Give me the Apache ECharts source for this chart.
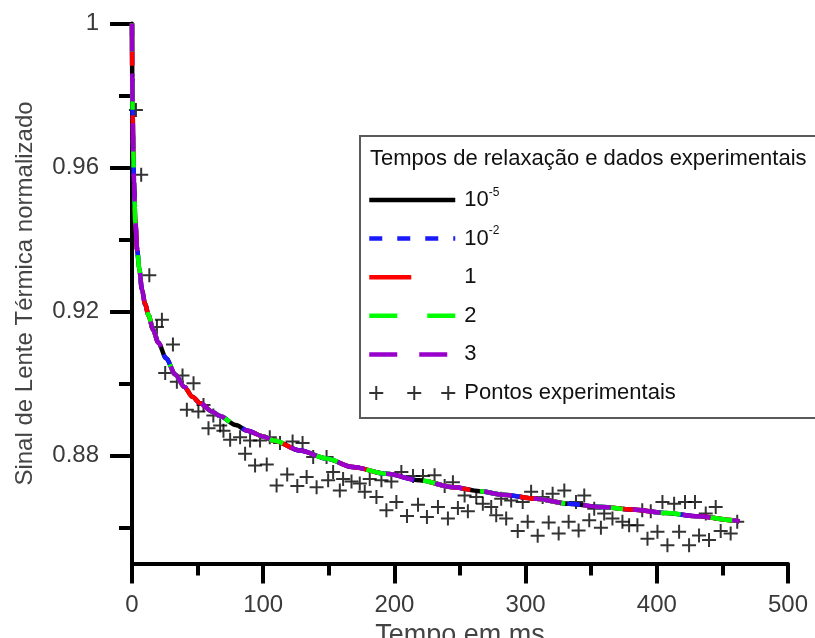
<!DOCTYPE html>
<html>
<head>
<meta charset="utf-8">
<script src="https://cdn.jsdelivr.net/npm/echarts@6/dist/echarts.min.js"></script>
<style>
  html, body { margin: 0; padding: 0; background: #fff; }
  #chart { width: 815px; height: 638px; }
</style>
</head>
<body>
<div id="chart"></div>
<script>
// tempo (ms) e sinal normalizado das curvas teoricas (todas se sobrepoem)
var curveTime = [0, 0.2, 0.5, 1, 1.5, 2.5, 4, 5.5, 7.6, 10, 12.6, 16, 20, 26, 33, 40, 46, 52, 61, 67, 79, 88, 100, 108, 128, 148, 168, 194, 219, 245, 265, 283, 308, 333, 358, 381, 407, 432, 458, 463]
var curveSignal = [1.0, 0.985, 0.975, 0.964, 0.956, 0.945, 0.937, 0.932, 0.926, 0.922, 0.919, 0.915, 0.9114, 0.907, 0.9025, 0.899, 0.8963, 0.8945, 0.8922, 0.891, 0.8885, 0.8869, 0.8853, 0.8842, 0.8814, 0.8792, 0.8768, 0.8749, 0.8731, 0.8712, 0.8701, 0.8691, 0.868, 0.8666, 0.8657, 0.865, 0.864, 0.8631, 0.862, 0.8617]

// pontos experimentais
var expTime = [3, 7, 13.2, 19, 22.8, 25.3, 31.2, 34.2, 38.5, 41.8, 46.9, 50.6, 54.5, 58.3, 62, 67.2, 69.7, 74.8, 82.4, 86.2, 90, 93.8, 97.6, 102.7, 105, 110.2, 112.8, 118.3, 122.4, 126, 130, 133.1, 138.1, 140.7, 148.3, 149.5, 153.3, 158.4, 160.9, 167.3, 173.6, 177.4, 181.2, 186.3, 190.1, 193.9, 197.7, 201.5, 205.3, 209.6, 214.2, 218, 221.8, 224.8, 230.6, 233.2, 238.3, 240.8, 244.6, 248.4, 253.5, 256, 262.4, 267.4, 273.8, 277.6, 281.4, 285.2, 289, 294, 297.8, 301.6, 304.2, 309.2, 313, 317.6, 320.6, 325.2, 329.5, 332.8, 338.4, 340.4, 344.7, 348.5, 352.3, 357.4, 359.9, 366.2, 373.8, 378.9, 385.2, 388.9, 392.9, 395.4, 400.5, 404.3, 408.1, 413.2, 417, 421.5, 424.6, 429.1, 432.2, 437.3, 439.8, 444.9, 448.7, 456.3, 461.3]
var expSignal = [0.976, 0.958, 0.9301, 0.9157, 0.9177, 0.9029, 0.9108, 0.9005, 0.9022, 0.8927, 0.9001, 0.8922, 0.894, 0.8876, 0.8911, 0.8883, 0.8869, 0.8844, 0.8851, 0.8805, 0.8842, 0.8772, 0.8842, 0.8775, 0.8851, 0.8717, 0.8835, 0.8747, 0.8839, 0.8715, 0.8835, 0.874, 0.8796, 0.8712, 0.8796, 0.8731, 0.8754, 0.8703, 0.8735, 0.8728, 0.8722, 0.8699, 0.8735, 0.8685, 0.8731, 0.8648, 0.8728, 0.8671, 0.8754, 0.8632, 0.8743, 0.8663, 0.8743, 0.8629, 0.8745, 0.8657, 0.8715, 0.8625, 0.8726, 0.8654, 0.8689, 0.8645, 0.8685, 0.8666, 0.8657, 0.8634, 0.868, 0.8625, 0.8675, 0.859, 0.8671, 0.8616, 0.8699, 0.8577, 0.8685, 0.8614, 0.8694, 0.8583, 0.8703, 0.8616, 0.8671, 0.8592, 0.8689, 0.862, 0.8652, 0.8599, 0.8639, 0.8625, 0.8616, 0.8606, 0.8606, 0.8648, 0.8569, 0.8645, 0.8588, 0.8671, 0.8551, 0.8666, 0.8588, 0.8671, 0.8551, 0.8671, 0.8578, 0.8639, 0.8565, 0.8657, 0.859, 0.8583, 0.8616]

var yTicks = [0.88, 0.92, 0.96, 1]
var yMinorTicks = [0.86, 0.9, 0.94, 0.98]

var relaxNames = ['1e-5', '1e-2', '1', '2', '3']
var relaxLabels = ['{t|10}{s|-5}', '{t|10}{s|-2}', '{t|1}', '{t|2}', '{t|3}']
var relaxColors = ['#000000', '#1a1aff', '#ff0000', '#00ff00', '#9900cc']
var relaxDash = ['solid', [13, 15], [42, 50], [28, 30], [28, 22]]
var expName = 'Pontos experimentais'

var font = '"Liberation Sans", Arial, sans-serif'

var curveData = curveTime.map(function (t, i) { return [t, curveSignal[i]] })
var expData = expTime.map(function (t, i) { return [t, expSignal[i]] })

var plusPath = 'path://M6,0h2v14h-2z M0,6h14v2h-14z'
var plusRowPath = 'path://M6,0h2v14h-2z M0,6h14v2h-14z M44,0h2v14h-2z M38,6h14v2h-14z M78,0h2v14h-2z M72,6h14v2h-14z'

var series = relaxNames.map(function (name, i) {
  return {
    name: name,
    type: 'line',
    data: curveData,
    symbol: 'none',
    smooth: 0.3,
    smoothMonotone: 'x',
    lineStyle: { color: relaxColors[i], width: 4.5, type: relaxDash[i] },
    itemStyle: { color: relaxColors[i] }
  }
})
series.push({
  name: expName,
  type: 'scatter',
  data: expData,
  symbol: plusPath,
  symbolSize: 14,
  itemStyle: { color: '#000' }
})

var labelMap = {}
relaxNames.forEach(function (n, i) { labelMap[n] = relaxLabels[i] })
labelMap[expName] = '{t|' + expName + '}'

// legenda: so a linha para as curvas, sem o simbolo do meio
var legendData = relaxNames.map(function (n) {
  return { name: n, itemStyle: { opacity: 0 } }
})
legendData.push({ name: expName, icon: plusRowPath })

var gridBox = { left: 132, right: 27, top: 23.5, bottom: 74.5, containLabel: false, outerBoundsMode: 'none' }

var chart = echarts.init(document.getElementById('chart'))
chart.setOption({
  animation: false,
  backgroundColor: '#fff',
  grid: [
    Object.assign({}, gridBox),
    Object.assign({}, gridBox)
  ],
  xAxis: [
    {
      type: 'value',
      gridIndex: 0,
      min: 0,
      max: 500,
      interval: 100,
      name: 'Tempo em ms',
      nameLocation: 'middle',
      nameGap: 54,
      nameTextStyle: { fontFamily: font, fontSize: 27, color: '#444' },
      axisLine: { lineStyle: { color: '#000', width: 4 } },
      axisTick: { length: 20, lineStyle: { color: '#000', width: 4 } },
      minorTick: { show: true, splitNumber: 2, length: 12, lineStyle: { color: '#000', width: 4 } },
      splitLine: { show: false },
      axisLabel: { fontFamily: font, fontSize: 24, color: '#3a3a3a', margin: 30 }
    },
    { type: 'value', gridIndex: 1, min: 0, max: 500, show: false }
  ],
  yAxis: [
    {
      type: 'value',
      gridIndex: 0,
      min: 0.85,
      max: 1,
      name: 'Sinal de Lente Térmica normalizado',
      nameLocation: 'middle',
      nameGap: 95,
      nameMoveOverlap: false,
      nameTextStyle: { fontFamily: font, fontSize: 24, color: '#444' },
      axisLine: { show: true, lineStyle: { color: '#000', width: 4 } },
      axisTick: { show: true, customValues: yTicks, length: 22, lineStyle: { color: '#000', width: 4 } },
      splitLine: { show: false },
      axisLabel: {
        customValues: yTicks,
        fontFamily: font, fontSize: 24, color: '#3a3a3a', margin: 33,
        formatter: function (v) { return String(+v.toFixed(2)) }
      }
    },
    {
      type: 'value',
      gridIndex: 1,
      min: 0.85,
      max: 1,
      axisLine: { show: false },
      axisTick: { show: true, customValues: yMinorTicks, length: 13, lineStyle: { color: '#000', width: 4 } },
      axisLabel: { show: false },
      splitLine: { show: false }
    }
  ],
  legend: {
    orient: 'vertical',
    left: 367,
    top: 186.5,
    padding: 0,
    itemWidth: 86,
    itemHeight: 14,
    itemGap: 11.6,
    selectedMode: false,
    lineStyle: { width: 'inherit' },
    data: legendData,
    formatter: function (name) { return labelMap[name] },
    textStyle: {
      fontFamily: font,
      fontSize: 22,
      color: '#111',
      lineHeight: 27,
      rich: {
        t: { fontFamily: font, fontSize: 22, lineHeight: 27, color: '#111', padding: [0, 0, 0, 4] },
        s: { fontFamily: font, fontSize: 12, lineHeight: 14, color: '#111', verticalAlign: 'top' }
      }
    }
  },
  graphic: [
    {
      type: 'rect',
      shape: { x: 360, y: 136, width: 480, height: 282 },
      style: { fill: 'transparent', stroke: '#5a5a5a', lineWidth: 2 }
    },
    {
      type: 'text',
      style: {
        x: 370, y: 159,
        text: 'Tempos de relaxação e dados experimentais',
        font: '22px ' + font,
        fill: '#111',
        verticalAlign: 'middle'
      }
    }
  ],
  series: series
})
</script>
</body>
</html>
